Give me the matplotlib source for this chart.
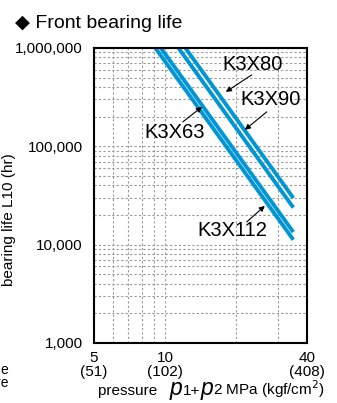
import matplotlib
matplotlib.use("Agg")
import matplotlib.pyplot as plt
from matplotlib.ticker import FixedLocator, NullFormatter

plt.rcParams['font.family'] = ['Liberation Sans', 'DejaVu Sans']

# bearing life lines: each one runs from (start pressure, 1,000,000 hr) to (35 MPa, end life)
start_pressure = [9.1, 9.6, 11.4, 12.2]
start_life = [1e6, 1e6, 1e6, 1e6]
end_pressure = [35, 35, 35, 35]
end_life = [11200, 13400, 23800, 29800]

# labels: (text, text position, arrow start, arrow tip)
labels = ['K3X80', 'K3X90', 'K3X63', 'K3X112']
label_pos = [(23.6, 673000), (28.1, 296000), (11.0, 137000), (19.2, 13800)]
arrow_from = [(23.3, 532000), (27.0, 224000), (11.9, 177000), (22.2, 17000)]
arrow_to = [(18.1, 357000), (21.8, 147000), (14.35, 252000), (26.5, 24800)]

xticks = [5, 10, 40]
xticklabels = ['5\n(51)', '10\n(102)', '40\n(408)']
yticks = [1000, 10000, 100000, 1000000]
yticklabels = ['1,000', '10,000', '100,000', '1,000,000']

fig = plt.figure(figsize=(3.37, 4.03), dpi=100)
ax = fig.add_axes([0.279, 0.149, 0.632, 0.732])
ax.set_xscale('log')
ax.set_yscale('log')
ax.set_xlim(5, 40)
ax.set_ylim(1000, 1e6)

blue = '#0096d6'
for i in range(len(start_pressure)):
    ax.plot([start_pressure[i], end_pressure[i]], [start_life[i], end_life[i]],
            color=blue, lw=2.8, solid_capstyle='butt', zorder=3)

for i in range(len(labels)):
    ax.text(label_pos[i][0], label_pos[i][1], labels[i], fontsize=14.5,
            ha='center', va='center', zorder=5)
    ax.annotate('', xy=arrow_to[i], xytext=arrow_from[i],
                arrowprops=dict(arrowstyle='-|>', color='black', lw=0.8,
                                mutation_scale=8, shrinkA=0, shrinkB=0),
                zorder=5)

ax.xaxis.set_major_locator(FixedLocator(xticks))
ax.xaxis.set_minor_locator(FixedLocator([6, 7, 8, 9, 20, 30]))
ax.set_xticklabels(xticklabels)
ax.xaxis.set_minor_formatter(NullFormatter())
ax.yaxis.set_major_locator(FixedLocator(yticks))
ax.set_yticklabels(yticklabels)
ax.yaxis.set_minor_formatter(NullFormatter())
ax.tick_params(which='both', length=0, labelsize=11)
ax.tick_params(axis='y', pad=8)
ax.tick_params(axis='x', pad=6)
for lab in ax.get_xticklabels():
    lab.set_linespacing(1.0)

ax.grid(True, which='both', color='#999999', lw=0.8, linestyle=(0, (2, 2)))
for s in ax.spines.values():
    s.set_linewidth(1.5)
    s.set_color('black')
    s.set_zorder(6)

ax.set_ylabel('bearing life L10 (hr)', fontsize=11)
ax.yaxis.set_label_coords(-0.366, 0.417)

fig.text(0.045, 0.942, '\u25c6 Front bearing life', fontsize=14, va='center')

# x axis label built in pieces, laid side by side on one baseline
renderer = fig.canvas.get_renderer()
pieces = [('pressure   ', 11, 'normal'), ('p', 16.5, 'italic'), ('1+', 11, 'normal'),
          ('p', 16.5, 'italic'), ('2 MPa (kgf/cm$^2$)', 11, 'normal')]
xpos = 98
for txt, size, style in pieces:
    t = fig.text(xpos / 337, 1 - 395 / 403, txt, fontsize=size, style=style,
                 va='baseline', ha='left')
    xpos += t.get_window_extent(renderer).width

# cut off text fragments at the left edge
fig.text(0.024, 0.082, 'e', fontsize=10, ha='right', va='center')
fig.text(0.024, 0.049, 're', fontsize=10, ha='right', va='center')

fig.savefig('out.png', dpi=100)
